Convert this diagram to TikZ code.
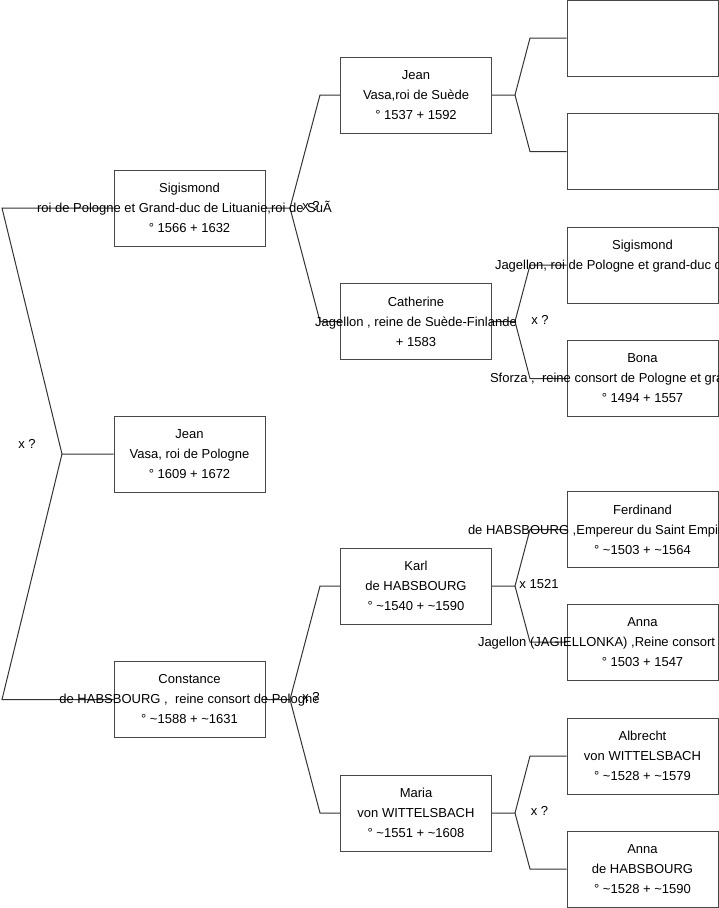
\documentclass[tikz,border=0pt]{standalone}
\usepackage{fontspec}
\setmainfont{Liberation Sans}
\newcommand{\ovl}[2]{\makebox[#1pt][l]{#2}}
\tikzset{
  box/.style={draw=black!72, line width=1pt, fill=white, minimum width=151pt, minimum height=76pt, inner sep=0pt},
  txt/.style={align=center, inner sep=0pt, font=\fontsize{13}{20}\selectfont},
  lbl/.style={inner sep=0pt, font=\fontsize{13}{16}\selectfont},
  conn/.style={draw=black!80, line width=1pt}
}
\begin{document}
\begin{tikzpicture}[x=1pt,y=-1pt]
\useasboundingbox (0,0) rectangle (719,908);
% column 1
\node[box] (sig) at (189.5,208) {};
\node[box] (jeanP) at (189.5,454) {};
\node[box] (con) at (189.5,699.5) {};
% column 2
\node[box] (js) at (416,95) {};
\node[box] (cat) at (416,321.5) {};
\node[box] (karl) at (416,586) {};
\node[box] (maria) at (416,813) {};
% column 3
\node[box] (e1) at (642.5,38) {};
\node[box] (e2) at (642.5,151.5) {};
\node[box] (sj) at (642.5,265) {};
\node[box] (bona) at (642.5,378.5) {};
\node[box] (ferd) at (642.5,529.5) {};
\node[box] (annaJ) at (642.5,642) {};
\node[box] (albr) at (642.5,756) {};
\node[box] (annaH) at (642.5,869) {};

% branch coordinates
\coordinate (bR) at (62,454);
\coordinate (bR1) at (2,208);
\coordinate (bR2) at (2,699.5);
\coordinate (bSig) at (290,208);
\coordinate (bSig1) at (320,95);
\coordinate (bSig2) at (320,321.5);
\coordinate (bCon) at (290,699.5);
\coordinate (bCon1) at (320,586);
\coordinate (bCon2) at (320,813);
\coordinate (bJs) at (515,95);
\coordinate (bJs1) at (530,38);
\coordinate (bJs2) at (530,151.5);
\coordinate (bCat) at (515,321.5);
\coordinate (bCat1) at (530,265);
\coordinate (bCat2) at (530,378.5);
\coordinate (bKarl) at (515,586);
\coordinate (bKarl1) at (530,529.5);
\coordinate (bKarl2) at (530,642);
\coordinate (bMar) at (515,813);
\coordinate (bMar1) at (530,756);
\coordinate (bMar2) at (530,869);

% connectors
\draw[conn] (jeanP.west) -- (bR) -- (bR1) -- (sig.west);
\draw[conn] (bR) -- (bR2) -- (con.west);
\draw[conn] (sig.east) -- (bSig) -- (bSig1) -- (js.west);
\draw[conn] (bSig) -- (bSig2) -- (cat.west);
\draw[conn] (con.east) -- (bCon) -- (bCon1) -- (karl.west);
\draw[conn] (bCon) -- (bCon2) -- (maria.west);
\draw[conn] (js.east) -- (bJs) -- (bJs1) -- (e1.west);
\draw[conn] (bJs) -- (bJs2) -- (e2.west);
\draw[conn] (cat.east) -- (bCat) -- (bCat1) -- (sj.west);
\draw[conn] (bCat) -- (bCat2) -- (bona.west);
\draw[conn] (karl.east) -- (bKarl) -- (bKarl1) -- (ferd.west);
\draw[conn] (bKarl) -- (bKarl2) -- (annaJ.west);
\draw[conn] (maria.east) -- (bMar) -- (bMar1) -- (albr.west);
\draw[conn] (bMar) -- (bMar2) -- (annaH.west);

% texts
\node[txt] (sigT) at (sig) {Sigismond\\\ovl{305}{roi de Pologne et Grand-duc de Lituanie,roi de SuÃ}\\° 1566 + 1632};
\node[txt] (jeanPT) at (jeanP) {Jean\\Vasa, roi de Pologne\\° 1609 + 1672};
\node[txt] (conT) at (con) {Constance\\de HABSBOURG ,\ \ reine consort de Pologne\\° \textasciitilde1588 + \textasciitilde1631};
\node[txt] (jsT) at (js) {Jean\\Vasa,roi de Suède\\° 1537 + 1592};
\node[txt] (catT) at (cat) {Catherine\\Jagellon , reine de Suède-Finlande\\+ 1583};
\node[txt] (karlT) at (karl) {Karl\\de HABSBOURG\\° \textasciitilde1540 + \textasciitilde1590};
\node[txt] (mariaT) at (maria) {Maria\\von WITTELSBACH\\° \textasciitilde1551 + \textasciitilde1608};
\node[txt] (sjT) at (sj) {Sigismond\\\ovl{295}{Jagellon, roi de Pologne et grand-duc de Lituanie}\\\mbox{}};
\node[txt] (bonaT) at (bona) {Bona\\\ovl{305}{Sforza ,\ \ reine consort de Pologne et grande-duchesse de Lituanie}\\° 1494 + 1557};
\node[txt] (ferdT) at (ferd) {Ferdinand\\\ovl{349}{de HABSBOURG ,Empereur du Saint Empire romain germanique}\\° \textasciitilde1503 + \textasciitilde1564};
\node[txt] (annaJT) at (annaJ) {Anna\\\ovl{329}{Jagellon (JAGIELLONKA) ,Reine consort de Bohême et de Hongrie}\\° 1503 + 1547};
\node[txt] (albrT) at (albr) {Albrecht\\von WITTELSBACH\\° \textasciitilde1528 + \textasciitilde1579};
\node[txt] (annaHT) at (annaH) {Anna\\de HABSBOURG\\° \textasciitilde1528 + \textasciitilde1590};

% marriage labels
\node[lbl] (mR) at (27,444) {x ?};
\node[lbl] (mSig) at (311,206) {x ?};
\node[lbl] (mCon) at (311,697) {x ?};
\node[lbl] (mCat) at (540,320) {x ?};
\node[lbl] (mKarl) at (539,584) {x 1521};
\node[lbl] (mMar) at (539.5,811) {x ?};
\end{tikzpicture}
\end{document}
